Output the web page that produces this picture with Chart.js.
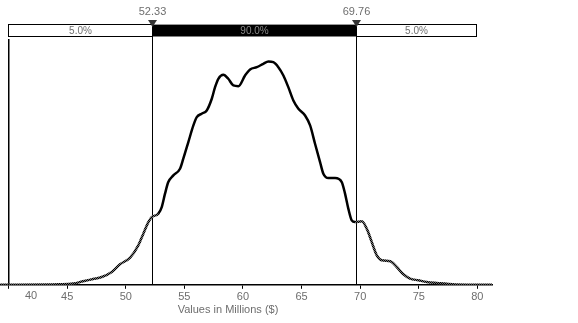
<!DOCTYPE html>
<html>
<head>
<meta charset="utf-8">
<script src="https://cdn.jsdelivr.net/npm/chart.js@4.4.1/dist/chart.umd.min.js"></script>
<style>
  html, body { margin: 0; padding: 0; background: #fff; }
  #wrap { width: 578px; height: 323px; }
</style>
</head>
<body>
<div id="wrap"><canvas id="dist" width="578" height="323"></canvas></div>
<script>
// simulated values (millions $) and relative density
const values = [39.27, 44.39, 45.50, 46.36, 47.21, 47.95, 48.81, 49.51, 50.37, 51.07,
  51.50, 51.93, 52.22, 52.78, 53.07, 53.35, 53.63, 54.06, 54.63, 54.91,
  55.34, 55.77, 56.06, 56.48, 56.91, 57.34, 57.62, 57.90, 58.33, 58.75,
  59.18, 59.61, 60.18, 60.61, 61.18, 61.74, 62.17, 62.59, 63.02, 63.45,
  63.87, 64.30, 64.73, 65.30, 65.73, 66.15, 66.58, 66.86, 67.29, 67.86,
  68.43, 68.71, 68.99, 69.28, 69.56, 70.14, 70.56, 70.99, 71.42, 71.85,
  72.56, 73.12, 73.69, 74.26, 74.97, 75.68, 76.54, 77.24, 78.10, 81.25];
const density = [0, 0.5, 1.2, 3.5, 5.8, 7.8, 12.8, 20.5, 27.2, 39.5,
  51.2, 62.8, 67.8, 71.2, 77.8, 91.2, 102.8, 109.5, 116.2, 126.2,
  142.8, 159.5, 167.8, 171.2, 174.5, 186.2, 197.8, 206.2, 210.2, 206.2,
  199.5, 198.8, 209.5, 215.5, 217.8, 221.2, 223.5, 222.8, 217.8, 209.5,
  197.8, 184.5, 176.2, 169.5, 159.5, 141.2, 122.8, 111.2, 106.8, 106.8,
  102.8, 91.2, 76.2, 64.5, 62.8, 63.5, 56.2, 42.8, 29.5, 24.5,
  23.5, 17.8, 10.5, 6.2, 4.5, 2.8, 1.8, 1.2, 0.3, 0];
const tickValues = [40, 45, 50, 55, 60, 65, 70, 75, 80];
const cutoffs = [52.33, 69.76];
const bandLabels = ['5.0%', '90.0%', '5.0%'];
const bandRange = [40, 80];
const axisTitle = 'Values in Millions ($)';

const textColor = '#6e6e6e';
const fontFamily = '"Liberation Sans", Arial, sans-serif';

const points = values.map((v, i) => ({ x: v, y: density[i] }));
const inTail = ctx => ctx.p0.parsed.x < cutoffs[0] || ctx.p1.parsed.x > cutoffs[1];

// checkered stroke for the tails outside the 90% band
const tile = document.createElement('canvas');
tile.width = 2; tile.height = 2;
const tctx = tile.getContext('2d');
tctx.fillStyle = '#777'; tctx.fillRect(0, 0, 2, 2);
tctx.fillStyle = '#000'; tctx.fillRect(0, 0, 1, 1); tctx.fillRect(1, 1, 1, 1);
const tailPattern = tctx.createPattern(tile, 'repeat');

const overlay = {
  id: 'overlay',
  beforeDatasetsDraw(chart) {
    const { ctx, chartArea, scales: { x } } = chart;
    ctx.save();
    ctx.strokeStyle = '#000';
    // left reference line
    ctx.lineWidth = 1.5;
    const xl = Math.round(x.getPixelForValue(bandRange[0])) - 0.25;
    ctx.beginPath();
    ctx.moveTo(xl, chartArea.top);
    ctx.lineTo(xl, chartArea.bottom);
    ctx.stroke();
    // percentile lines
    ctx.lineWidth = 1;
    cutoffs.forEach(c => {
      const px = Math.round(x.getPixelForValue(c)) - 0.5;
      ctx.beginPath();
      ctx.moveTo(px, 36);
      ctx.lineTo(px, chartArea.bottom);
      ctx.stroke();
    });
    ctx.restore();
  },
  afterDraw(chart) {
    const { ctx, scales: { x } } = chart;
    const edges = [bandRange[0], cutoffs[0], cutoffs[1], bandRange[1]].map(v => Math.round(x.getPixelForValue(v)) - 0.5);
    const top = 24.5, h = 12;
    ctx.save();
    // band bar
    ctx.fillStyle = '#fff';
    ctx.fillRect(edges[0], top, edges[3] - edges[0], h);
    ctx.fillStyle = '#000';
    ctx.fillRect(edges[1], top, edges[2] - edges[1], h);
    ctx.strokeStyle = '#000';
    ctx.lineWidth = 1;
    ctx.strokeRect(edges[0], top, edges[1] - edges[0], h);
    ctx.strokeRect(edges[2], top, edges[3] - edges[2], h);
    ctx.strokeStyle = '#999';
    ctx.beginPath();
    ctx.moveTo(edges[1], top);
    ctx.lineTo(edges[2], top);
    ctx.stroke();
    // band labels
    ctx.font = '10px ' + fontFamily;
    ctx.textAlign = 'center';
    ctx.textBaseline = 'middle';
    bandLabels.forEach((t, i) => {
      ctx.fillStyle = i === 1 ? '#8a8a8a' : textColor;
      ctx.fillText(t, (edges[i] + edges[i + 1]) / 2, top + h / 2 + 0.5);
    });
    // markers and their values
    ctx.font = '11px ' + fontFamily;
    cutoffs.forEach((c, i) => {
      const px = edges[i + 1];
      ctx.fillStyle = '#333';
      ctx.beginPath();
      ctx.moveTo(px - 4.5, 20);
      ctx.lineTo(px + 4.5, 20);
      ctx.lineTo(px, 27);
      ctx.closePath();
      ctx.fill();
      ctx.fillStyle = textColor;
      ctx.fillText(c.toFixed(2), px, 12);
    });
    // first tick label sits right of the reference line
    ctx.fillText('40', 31, 296);
    // axis title
    ctx.fillText(axisTitle, 228, 310);
    ctx.restore();
  }
};

new Chart(document.getElementById('dist'), {
  type: 'scatter',
  data: {
    datasets: [{
      label: 'Values',
      data: points,
      showLine: true,
      borderColor: '#000',
      borderWidth: 2.5,
      pointRadius: 0,
      cubicInterpolationMode: 'monotone',
      segment: {
        borderColor: ctx => inTail(ctx) ? tailPattern : undefined
      }
    }]
  },
  options: {
    responsive: false,
    animation: false,
    layout: { padding: { left: 0, right: 86, top: 39, bottom: 17 } },
    plugins: {
      legend: { display: false },
      tooltip: { enabled: false }
    },
    scales: {
      x: {
        type: 'linear',
        min: values[0],
        max: values[values.length - 1],
        afterBuildTicks: scale => { scale.ticks = tickValues.map(v => ({ value: v })); },
        grid: { drawOnChartArea: false, drawTicks: true, tickLength: 4, color: '#000' },
        border: { display: true, color: '#000', width: 1.5 },
        ticks: {
          autoSkip: false,
          maxRotation: 0,
          padding: 2,
          color: textColor,
          font: { family: fontFamily, size: 11 },
          callback: v => v === 40 ? '' : String(v)
        }
      },
      y: {
        display: false,
        min: 0,
        max: 246
      }
    }
  },
  plugins: [overlay]
});
</script>
</body>
</html>
